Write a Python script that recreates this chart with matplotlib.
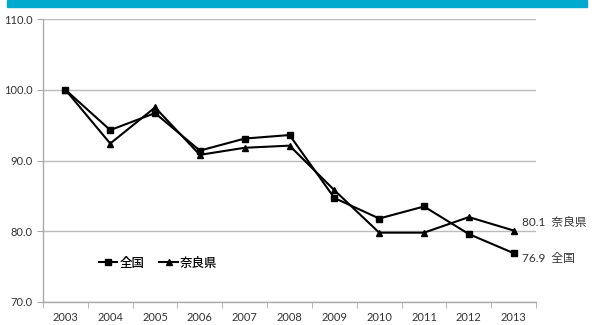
import matplotlib.pyplot as plt
from matplotlib.patches import Rectangle

plt.rcParams['font.family'] = ['Lato', 'Noto Sans CJK JP', 'DejaVu Sans']

years = ['2003', '2004', '2005', '2006', '2007', '2008', '2009', '2010', '2011', '2012', '2013']
zenkoku = [100.0, 94.3, 96.7, 91.4, 93.1, 93.6, 84.7, 81.8, 83.5, 79.6, 76.9]
nara = [100.0, 92.4, 97.5, 90.8, 91.8, 92.1, 85.8, 79.8, 79.8, 82.0, 80.1]
series_names = ['全国', '奈良県']

fig = plt.figure(figsize=(5.92, 3.25), dpi=100)
ax = fig.add_axes([0.0726, 0.0708, 0.833, 0.8707])

# cut-off title band at the top
fig.patches.append(Rectangle((7 / 592, 1 - 7 / 325), 580 / 592, 7 / 325,
                             transform=fig.transFigure, color='#00a9ce', zorder=0))

x = list(range(len(years)))
ax.plot(x, zenkoku, color='black', lw=1.5, marker='s', ms=5, label=series_names[0])
ax.plot(x, nara, color='black', lw=1.5, marker='^', ms=5, label=series_names[1])

ax.set_xlim(-0.5, len(years) - 0.5)
ax.set_ylim(70, 110)
ax.set_yticks([70, 80, 90, 100, 110])
ax.set_yticklabels([f'{v:.1f}' for v in [70, 80, 90, 100, 110]])
ax.set_xticks(x)
ax.set_xticklabels(years)
ax.set_xticks([i - 0.5 for i in range(len(years) + 1)], minor=True)

ax.grid(axis='y', color='#bbbbbb', lw=1)
ax.set_axisbelow(True)
for s in ['top', 'right']:
    ax.spines[s].set_visible(False)
for s in ['left', 'bottom']:
    ax.spines[s].set_color('#aaaaaa')
    ax.spines[s].set_linewidth(1)

ax.tick_params(axis='x', which='major', length=0, labelsize=8, pad=7, colors='#333333')
ax.tick_params(axis='x', which='minor', length=4, color='#aaaaaa')
ax.tick_params(axis='y', length=4, color='#aaaaaa', labelsize=8, labelcolor='#333333')

ax.legend(loc='lower left', bbox_to_anchor=(0.09, 0.075), ncol=2, frameon=False,
          prop={'family': ['Noto Sans CJK JP'], 'size': 9, 'weight': 'medium'},
          markerscale=0.8, handlelength=1.5, handletextpad=0.15, columnspacing=1.2)

ax.annotate(f'{nara[-1]:.1f}  {series_names[1]}', xy=(x[-1], nara[-1]), xytext=(6, 2),
            textcoords='offset points', fontsize=8.5, va='bottom', color='#333333',
            annotation_clip=False)
ax.annotate(f'{zenkoku[-1]:.1f}  {series_names[0]}', xy=(x[-1], zenkoku[-1]), xytext=(6, -4),
            textcoords='offset points', fontsize=8.5, va='center', color='#333333',
            annotation_clip=False)

fig.savefig('out.png', dpi=100)
